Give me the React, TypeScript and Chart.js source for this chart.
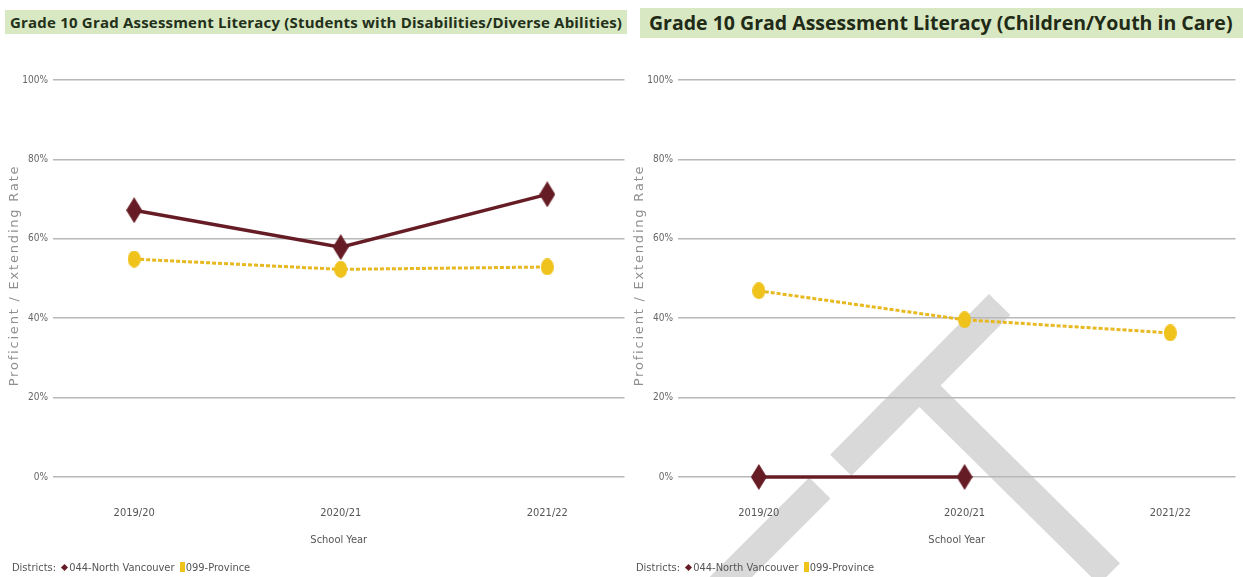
import React, { useEffect, useRef } from "react";
import { Chart, registerables } from "chart.js";

Chart.register(...registerables);

// ---------- data ----------
const schoolYears = ["2019/20", "2020/21", "2021/22"];
const yTickValues = [0, 20, 40, 60, 80, 100];

const sdNorthVancouver = [67.2, 57.9, 71.2];
const sdProvince = [54.9, 52.3, 52.9];

const cyicNorthVancouver: (number | null)[] = [0, 0, null];
const cyicProvince = [46.9, 39.6, 36.3];

const titleSD =
  "Grade 10 Grad Assessment Literacy (Students with Disabilities/Diverse Abilities)";
const titleCYIC = "Grade 10 Grad Assessment Literacy (Children/Youth in Care)";
const yAxisTitle = "Proficient / Extending Rate";
const xAxisTitle = "School Year";
const legendLead = "Districts:";
const districtNorthVancouver = "044-North Vancouver";
const districtProvince = "099-Province";

// ---------- styles ----------
const MAROON = "#661c25";
const GOLD = "#f0c21c";
const GOLD_LINE = "#e8b820";
const GRID = "#b8b8b8";
const NARROW =
  '"DejaVu Sans Condensed", "Liberation Sans Narrow", "Roboto Condensed", "Liberation Sans", sans-serif';
const TITLE_FONT = '"Open Sans", "Noto Sans", sans-serif';

function makeDiamond(w: number, h: number, color: string) {
  const c = document.createElement("canvas");
  c.width = w;
  c.height = h;
  const ctx = c.getContext("2d")!;
  ctx.fillStyle = color;
  ctx.beginPath();
  ctx.moveTo(w / 2, 0);
  ctx.lineTo(w, h / 2);
  ctx.lineTo(w / 2, h);
  ctx.lineTo(0, h / 2);
  ctx.closePath();
  ctx.fill();
  return c;
}

function makeEllipse(w: number, h: number, color: string) {
  const c = document.createElement("canvas");
  c.width = w;
  c.height = h;
  const ctx = c.getContext("2d")!;
  ctx.fillStyle = color;
  ctx.beginPath();
  ctx.ellipse(w / 2, h / 2, w / 2, h / 2, 0, 0, Math.PI * 2);
  ctx.fill();
  return c;
}

// y-axis title drawn with letter spacing (Chart.js cannot space letters)
const yTitlePlugin = {
  id: "yTitleSpaced",
  afterDraw(chart: any) {
    const { ctx, chartArea } = chart;
    ctx.save();
    ctx.font = '13px "DejaVu Sans", sans-serif';
    ctx.fillStyle = "#8f8f8f";
    (ctx as any).letterSpacing = "1.8px";
    ctx.textAlign = "center";
    ctx.textBaseline = "middle";
    ctx.translate(15, (chartArea.top + chartArea.bottom) / 2 - 3);
    ctx.rotate(-Math.PI / 2);
    ctx.fillText(yAxisTitle, 0, 0);
    ctx.restore();
  },
};

function buildConfig(north: (number | null)[], prov: (number | null)[], xMax: number, padRight: number): any {
  const diamond = makeDiamond(16, 26, MAROON);
  const ellipse = makeEllipse(13, 17, GOLD);
  return {
    type: "line",
    data: {
      datasets: [
        {
          label: districtProvince,
          data: prov.map((v, i) => ({ x: i, y: v })),
          borderColor: GOLD_LINE,
          backgroundColor: GOLD,
          borderWidth: 3,
          borderDash: [4, 2],
          pointStyle: ellipse,
          clip: false,
          order: 2,
        },
        {
          label: districtNorthVancouver,
          data: north.map((v, i) => ({ x: i, y: v })),
          borderColor: MAROON,
          backgroundColor: MAROON,
          borderWidth: 3.5,
          pointStyle: diamond,
          spanGaps: false,
          clip: false,
          order: 1,
        },
      ],
    },
    plugins: [yTitlePlugin],
    options: {
      animation: false,
      responsive: false,
      maintainAspectRatio: false,
      layout: { padding: { top: 80, bottom: 30, left: 0, right: padRight } },
      plugins: {
        legend: { display: false },
        tooltip: { enabled: false },
        title: { display: false },
      },
      scales: {
        x: {
          type: "linear",
          min: -0.393,
          max: xMax,
          afterBuildTicks: (s: any) => {
            s.ticks = schoolYears.map((_, i) => ({ value: i }));
          },
          afterFit: (s: any) => {
            s.height = 70;
          },
          ticks: {
            callback: (v: any) => schoolYears[v] ?? "",
            font: { family: NARROW, size: 11 },
            color: "#555",
            padding: 22,
            maxRotation: 0,
            autoSkip: false,
          },
          grid: { display: false },
          border: { display: false },
          title: {
            display: true,
            text: xAxisTitle,
            font: { family: NARROW, size: 11 },
            color: "#555",
            padding: { top: 0, bottom: 0 },
          },
        },
        y: {
          min: 0,
          max: 100,
          afterBuildTicks: (s: any) => {
            s.ticks = yTickValues.map((v) => ({ value: v }));
          },
          afterFit: (s: any) => {
            s.width = 53;
          },
          ticks: {
            callback: (v: any) => v + "%",
            font: { family: NARROW, size: 10 },
            color: "#666",
            padding: 5,
          },
          grid: { color: GRID, lineWidth: 1.5, drawTicks: false },
          border: { display: false },
          title: { display: false },
        },
      },
    },
  };
}

function LineChart(props: {
  north: (number | null)[];
  prov: (number | null)[];
  xMax: number;
  padRight: number;
  left: number;
  width: number;
}) {
  const ref = useRef<HTMLCanvasElement | null>(null);
  useEffect(() => {
    if (!ref.current) return;
    const chart = new Chart(ref.current, buildConfig(props.north, props.prov, props.xMax, props.padRight));
    return () => chart.destroy();
  }, []);
  return (
    <canvas
      ref={ref}
      width={props.width}
      height={577}
      style={{ position: "absolute", left: props.left, top: 0, width: props.width, height: 577 }}
    />
  );
}

function Legend(props: { left: number }) {
  return (
    <div
      style={{
        position: "absolute",
        left: props.left,
        top: 561,
        font: `11px ${NARROW}`,
        color: "#555",
        whiteSpace: "nowrap",
      }}
    >
      {legendLead}{" "}
      <span
        style={{
          display: "inline-block",
          width: 5,
          height: 5,
          background: MAROON,
          transform: "rotate(45deg)",
          margin: "0 2px 1px 3px",
        }}
      />
      {districtNorthVancouver}{" "}
      <span
        style={{
          display: "inline-block",
          width: 5,
          height: 10,
          background: GOLD,
          margin: "0 1px -1px 2px",
        }}
      />
      {districtProvince}
    </div>
  );
}

function Band(props: { x1: number; y1: number; x2: number; y2: number; w: number }) {
  const { x1, y1, x2, y2, w } = props;
  const len = Math.hypot(x2 - x1, y2 - y1);
  const ang = (Math.atan2(y2 - y1, x2 - x1) * 180) / Math.PI;
  const cx = (x1 + x2) / 2;
  const cy = (y1 + y2) / 2;
  return (
    <div
      style={{
        position: "absolute",
        left: cx - len / 2,
        top: cy - w / 2,
        width: len,
        height: w,
        background: "#d9d9d9",
        transform: `rotate(${ang}deg)`,
      }}
    />
  );
}

export default function App() {
  return (
    <div
      style={{
        position: "absolute",
        left: 0,
        top: 0,
        width: 1243,
        height: 577,
        overflow: "hidden",
        background: "#fff",
      }}
    >
      {/* grey occluding shape under the right chart */}
      <Band x1={1000} y1={304} x2={841} y2={465} w={30} />
      <Band x1={820} y1={488} x2={700} y2={608} w={30} />
      <Band x1={920} y1={386} x2={1110} y2={574} w={30} />

      <LineChart north={sdNorthVancouver} prov={sdProvince} xMax={2.374} padRight={2} left={0} width={632} />
      <LineChart north={cyicNorthVancouver} prov={cyicProvince} xMax={2.317} padRight={0} left={625} width={618} />

      <div
        style={{
          position: "absolute",
          left: 5,
          top: 10,
          width: 622,
          height: 24,
          background: "#d8e8c2",
          font: `bold 15px ${TITLE_FONT}`,
          letterSpacing: "0.2px",
          color: "#23301a",
          lineHeight: "24px",
          paddingLeft: 5,
          boxSizing: "border-box",
          whiteSpace: "nowrap",
          overflow: "hidden",
        }}
      >
        {titleSD}
      </div>
      <div
        style={{
          position: "absolute",
          left: 640,
          top: 8,
          width: 603,
          height: 30,
          background: "#d8e8c2",
          font: `bold 19.5px ${TITLE_FONT}`,
          color: "#1f2a17",
          lineHeight: "30px",
          paddingLeft: 9,
          boxSizing: "border-box",
          whiteSpace: "nowrap",
          overflow: "hidden",
        }}
      >
        {titleCYIC}
      </div>

      <Legend left={12} />
      <Legend left={636} />
    </div>
  );
}
